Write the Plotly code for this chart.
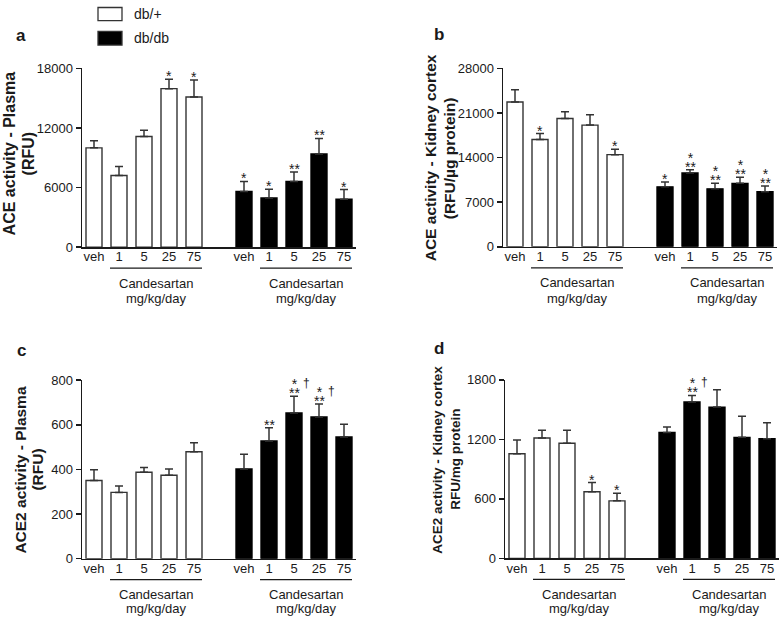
import plotly.graph_objects as go

W, H = 780, 624

# ---------------- data ----------------
doses = ["veh", "1", "5", "25", "75"]
pos_dbp = [0, 1, 2, 3, 4]
pos_dbdb = [6, 7, 8, 9, 10]

# panel a: ACE activity - Plasma (RFU)
a_dbp = [10000, 7210, 11150, 15970, 15120]
a_dbp_err = [720, 920, 620, 950, 1730]
a_dbdb = [5610, 4950, 6620, 9380, 4820]
a_dbdb_err = [1010, 880, 950, 1570, 980]
a_sig_dbp = ["", "", "", "*", "*"]
a_sig_dbdb = ["*", "*", "**", "**", "*"]
a_dag_dbdb = ["", "", "", "", ""]

# panel b: ACE activity - Kidney cortex (RFU/ug protein)
b_dbp = [22740, 16860, 20140, 19110, 14470]
b_dbp_err = [1940, 920, 1070, 1640, 860]
b_dbdb = [9410, 11600, 9100, 9960, 8640]
b_dbdb_err = [770, 510, 860, 980, 920]
b_sig_dbp = ["", "*", "", "", "*"]
b_sig_dbdb = ["*", "*|**", "*|**", "*|**", "*|**"]
b_dag_dbdb = ["", "", "", "", ""]

# panel c: ACE2 activity - Plasma (RFU)
c_dbp = [350, 297, 387, 374, 479]
c_dbp_err = [49, 29, 22, 28, 40]
c_dbdb = [402, 527, 653, 635, 545]
c_dbdb_err = [66, 60, 75, 58, 57]
c_sig_dbp = ["", "", "", "", ""]
c_sig_dbdb = ["", "**", "*|**", "*|**", ""]
c_dag_dbdb = ["", "", "†", "†", ""]

# panel d: ACE2 activity - Kidney cortex RFU/mg protein
d_dbp = [1055, 1213, 1161, 672, 580]
d_dbp_err = [138, 78, 130, 92, 76]
d_dbdb = [1269, 1577, 1525, 1220, 1207]
d_dbdb_err = [56, 66, 174, 213, 160]
d_sig_dbp = ["", "", "", "*", "*"]
d_sig_dbdb = ["", "*|**", "", "", ""]
d_dag_dbdb = ["", "†", "", "", ""]

a_ticks = [0, 6000, 12000, 18000]
b_ticks = [0, 7000, 14000, 21000, 28000]
c_ticks = [0, 200, 400, 600, 800]
d_ticks = [0, 600, 1200, 1800]

FONT = "Arial, Liberation Sans, sans-serif"
DARK = "#1a1a1a"

def px_x(p):
    return p / W

def px_y(p):
    return 1 - p / H

panels = [
    dict(key="", dbp=a_dbp, dbp_err=a_dbp_err, dbdb=a_dbdb, dbdb_err=a_dbdb_err,
         sig_dbp=a_sig_dbp, sig_dbdb=a_sig_dbdb, dag=a_dag_dbdb, ticks=a_ticks,
         xpx=(82, 356), ypx=(63, 246), label="a", label_pos=(21, 29),
         t1="ACE activity - Plasma", t2="(RFU)", tsize=16, t1x=9, t2x=28, ty=150),
    dict(key="2", dbp=b_dbp, dbp_err=b_dbp_err, dbdb=b_dbdb, dbdb_err=b_dbdb_err,
         sig_dbp=b_sig_dbp, sig_dbdb=b_sig_dbdb, dag=b_dag_dbdb, ticks=b_ticks,
         xpx=(503, 777), ypx=(63, 245.7), label="b", label_pos=(439, 28),
         t1="ACE activity - Kidney cortex", t2="(RFU/µg protein)", tsize=15.5, t1x=430, t2x=449, ty=155),
    dict(key="3", dbp=c_dbp, dbp_err=c_dbp_err, dbdb=c_dbdb, dbdb_err=c_dbdb_err,
         sig_dbp=c_sig_dbp, sig_dbdb=c_sig_dbdb, dag=c_dag_dbdb, ticks=c_ticks,
         xpx=(82, 356), ypx=(382.3, 565.3), label="c", label_pos=(21, 352),
         t1="ACE2 activity - Plasma", t2="(RFU)", tsize=15.5, t1x=21, t2x=38, ty=474),
    dict(key="4", dbp=d_dbp, dbp_err=d_dbp_err, dbdb=d_dbdb, dbdb_err=d_dbdb_err,
         sig_dbp=d_sig_dbp, sig_dbdb=d_sig_dbdb, dag=d_dag_dbdb, ticks=d_ticks,
         xpx=(505, 779), ypx=(382, 565), label="d", label_pos=(439, 350),
         t1="ACE2 activity - Kidney cortex", t2="RFU/mg protein", tsize=13.5, t1x=438, t2x=456, ty=464),
]

fig = go.Figure()
annotations = []
shapes = []
layout = {}

STAR = '<span style="font-size:14px">{}</span>'

for p in panels:
    k = p["key"]
    xa, ya = "x" + k, "y" + k
    err_style = dict(type="data", symmetric=False, color="#333", thickness=1.5, width=4)
    fig.add_trace(go.Bar(
        x=pos_dbp, y=p["dbp"], xaxis=xa, yaxis=ya, width=0.64,
        marker=dict(color="white", line=dict(color="#333", width=1.4)),
        error_y=dict(array=p["dbp_err"], arrayminus=[0] * 5, **err_style),
        name="db/+", showlegend=False))
    fig.add_trace(go.Bar(
        x=pos_dbdb, y=p["dbdb"], xaxis=xa, yaxis=ya, width=0.64,
        marker=dict(color="black", line=dict(color="black", width=1.4)),
        error_y=dict(array=p["dbdb_err"], arrayminus=[0] * 5, **err_style),
        name="db/db", showlegend=False))

    top = p["ticks"][-1]
    layout["xaxis" + k] = dict(
        domain=[px_x(p["xpx"][0]), px_x(p["xpx"][1])], anchor=ya,
        range=[-0.48, 10.48], tickvals=pos_dbp + pos_dbdb, ticktext=doses + doses,
        showline=True, linecolor=DARK, linewidth=1.5, ticks="", ticklabelstandoff=-3,
        showgrid=False, zeroline=False,
        tickfont=dict(family=FONT, size=13, color=DARK), fixedrange=True)
    layout["yaxis" + k] = dict(
        domain=[px_y(p["ypx"][1]), px_y(p["ypx"][0])], anchor=xa,
        range=[0, top], tickvals=p["ticks"], tickformat="d",
        showline=True, linecolor=DARK, linewidth=1.5,
        ticks="outside", ticklen=5, tickwidth=1.5, tickcolor=DARK,
        showgrid=False, zeroline=False,
        tickfont=dict(family=FONT, size=13, color=DARK), fixedrange=True)

    # significance marks (stacked lines in one annotation, tight line spacing)
    for xs, vals, errs, sigs in [(pos_dbp, p["dbp"], p["dbp_err"], p["sig_dbp"]),
                                  (pos_dbdb, p["dbdb"], p["dbdb_err"], p["sig_dbdb"])]:
        for xv, v, e, s in zip(xs, vals, errs, sigs):
            if not s:
                continue
            lines = s.split("|")
            text = "<br>".join(STAR.format(l) for l in lines)
            annotations.append(dict(
                x=xv, y=v + e, xref=xa, yref=ya, text=text, showarrow=False,
                xanchor="center", yanchor="bottom", yshift=-6, borderpad=0,
                font=dict(family=FONT, size=7.3, color=DARK)))
    for xv, v, e, dg in zip(pos_dbdb, p["dbdb"], p["dbdb_err"], p["dag"]):
        if dg:
            annotations.append(dict(
                x=xv, y=v + e, xref=xa, yref=ya, text=dg, showarrow=False,
                xanchor="center", yanchor="middle", xshift=12, yshift=13, borderpad=0,
                font=dict(family=FONT, size=12, color=DARK)))

    # group labels
    axis_px = p["ypx"][1]
    for g0 in (0, 6):
        shapes.append(dict(type="line", xref=xa, yref="paper",
                           x0=g0 + 0.64, x1=g0 + 4.32,
                           y0=px_y(axis_px + 21.5), y1=px_y(axis_px + 21.5),
                           line=dict(color=DARK, width=1.3)))
        annotations.append(dict(x=g0 + 2.48, y=px_y(axis_px + 37), xref=xa, yref="paper",
                                text="Candesartan", showarrow=False, xanchor="center",
                                yanchor="middle", font=dict(family=FONT, size=13, color=DARK)))
        annotations.append(dict(x=g0 + 2.48, y=px_y(min(axis_px + 53, 616)), xref=xa, yref="paper",
                                text="mg/kg/day", showarrow=False, xanchor="center",
                                yanchor="middle", font=dict(family=FONT, size=13, color=DARK)))

    # axis titles
    for txt, tx in [(p["t1"], p["t1x"]), (p["t2"], p["t2x"])]:
        annotations.append(dict(x=px_x(tx), y=px_y(p["ty"]), xref="paper", yref="paper",
                                text="<b>" + txt + "</b>", textangle=-90, showarrow=False,
                                xanchor="center", yanchor="middle",
                                font=dict(family=FONT, size=p["tsize"], color=DARK)))
    # panel label
    annotations.append(dict(x=px_x(p["label_pos"][0]), y=px_y(p["label_pos"][1]),
                            xref="paper", yref="paper", text="<b>" + p["label"] + "</b>",
                            showarrow=False, xanchor="center", yanchor="middle",
                            font=dict(family=FONT, size=17, color=DARK)))

# legend (drawn)
legend_items = [("db/+", "white", 0.5, 14), ("db/db", "black", 25, 39)]
for name, col, y0, y1 in legend_items:
    shapes.append(dict(type="rect", xref="paper", yref="paper",
                       x0=px_x(98), x1=px_x(122), y0=px_y(y1), y1=px_y(y0),
                       fillcolor=col, line=dict(color="#333", width=1.3)))
    annotations.append(dict(x=px_x(132), y=px_y((y0 + y1) / 2), xref="paper", yref="paper",
                            text=name, showarrow=False, xanchor="left", yanchor="middle",
                            font=dict(family=FONT, size=14, color=DARK)))

fig.update_layout(
    width=W, height=H, margin=dict(l=0, r=0, t=0, b=0),
    paper_bgcolor="white", plot_bgcolor="white", barmode="overlay",
    showlegend=False, annotations=annotations, shapes=shapes, **layout)

fig.write_html("out.html", config={"displayModeBar": False, "staticPlot": True})

# remove default page margins so the 780x624 figure fills the window exactly
with open("out.html", "r", encoding="utf-8") as f:
    html = f.read()
html = html.replace("<head>", "<head><style>html,body{margin:0;padding:0;overflow:hidden;}</style>", 1)
with open("out.html", "w", encoding="utf-8") as f:
    f.write(html)
